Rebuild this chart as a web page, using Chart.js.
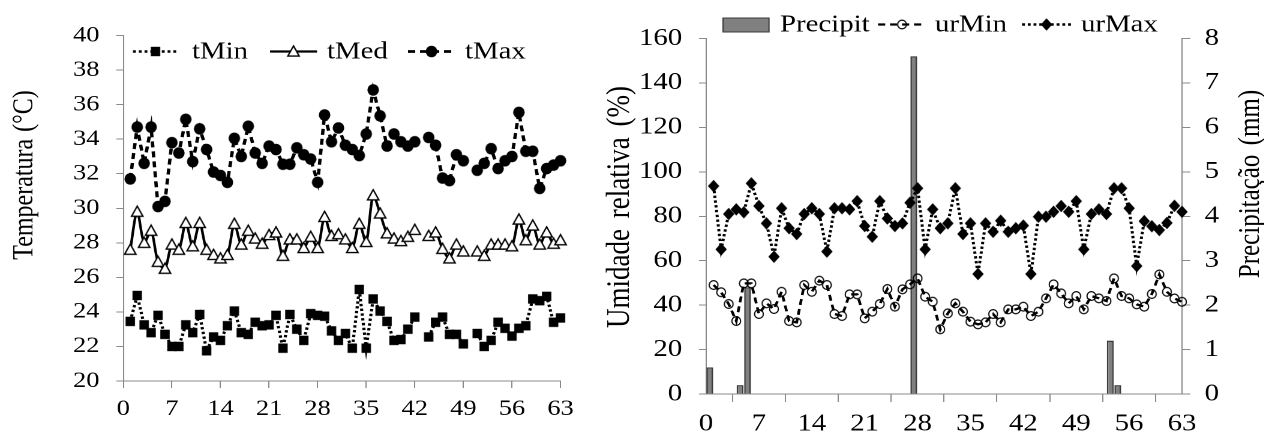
<!DOCTYPE html>
<html>
<head>
<meta charset="utf-8">
<script src="https://cdn.jsdelivr.net/npm/chart.js@4.4.1/dist/chart.umd.min.js"></script>
<style>
html,body{margin:0;padding:0;background:#fff;width:1264px;height:432px;overflow:hidden}
.wrap{position:absolute;top:0;height:432px;transform:scaleX(1.2);transform-origin:0 0}
canvas{display:block}
</style>
</head>
<body>
<div class="wrap" style="left:0;width:500px"><canvas id="c1" width="500" height="432"></canvas></div>
<div class="wrap" style="left:600px;width:553px"><canvas id="c2" width="553" height="432"></canvas></div>
<script>
// ---------------- DATA ----------------
const days = Array.from({length: 63}, (_, i) => i + 1);
const xTicks = [0, 7, 14, 21, 28, 35, 42, 49, 56, 63];
const tempTicks = [20, 22, 24, 26, 28, 30, 32, 34, 36, 38, 40];
const urTicks = [0, 20, 40, 60, 80, 100, 120, 140, 160];
const mmTicks = [0, 1, 2, 3, 4, 5, 6, 7, 8];

const tMin = [23.45,24.95,23.25,22.8,23.8,22.7,22.0,22.0,23.25,22.8,23.85,21.75,22.55,22.35,23.2,24.05,22.8,22.7,23.4,23.2,
  23.25,23.8,21.9,23.85,23.0,22.35,23.9,23.8,23.75,22.9,22.35,22.75,21.9,25.3,21.9,24.75,24.05,23.45,22.35,22.4,
  23.0,23.7,null,22.55,23.4,23.7,22.7,22.7,22.15,null,22.75,22.0,22.35,23.4,23.05,22.6,23.05,23.2,24.75,24.65,
  24.9,23.4,23.65];
const tMed = [27.6,29.8,28.0,28.7,26.9,26.5,27.9,27.6,29.15,27.8,29.15,27.6,27.3,27.1,27.3,29.1,27.9,28.7,28.25,27.95,
  28.45,28.6,27.25,28.2,28.2,27.7,28.35,27.7,29.5,28.4,28.5,28.2,27.7,29.1,28.05,30.75,29.7,28.55,28.25,28.1,
  28.35,28.75,null,28.4,28.6,27.65,27.1,27.9,27.5,null,27.5,27.25,27.9,27.9,27.9,27.8,29.35,28.15,29.0,27.9,
  28.6,27.95,28.15];
const tMax = [31.7,34.7,32.6,34.7,30.1,30.4,33.8,33.2,35.15,32.7,34.6,33.4,32.1,31.9,31.5,34.05,33.0,34.75,33.2,32.6,
  33.6,33.4,32.55,32.55,33.5,33.1,32.85,31.5,35.4,33.85,34.65,33.65,33.4,33.05,34.3,36.85,35.35,33.6,34.3,33.85,
  33.6,33.85,null,34.1,33.65,31.75,31.6,33.1,32.75,null,32.2,32.6,33.45,32.3,32.75,33.0,35.55,33.3,33.3,31.15,
  32.3,32.5,32.75];

const urMin = [49.05,45.8,40.5,32.85,49.8,49.8,36.0,40.8,38.25,46.0,32.85,32.25,49.05,46.0,51.0,49.05,36.0,35.1,44.85,44.85,
  34.05,37.05,40.5,47.25,39.3,47.1,49.35,52.05,43.8,41.55,29.1,36.3,40.8,37.05,32.55,31.35,32.25,36.0,32.25,38.1,
  38.1,39.3,35.1,37.05,43.05,49.35,45.3,40.8,44.1,38.1,44.1,43.05,41.85,52.05,44.1,43.05,40.35,39.3,45.0,53.8,
  46.0,43.0,41.5];
const urMax = [93.6,65.1,81.0,83.1,81.8,94.8,84.6,76.8,61.8,83.6,74.6,72.0,81.0,83.6,81.0,64.1,83.6,83.6,83.1,86.8,
  75.6,70.8,86.8,79.0,75.6,76.8,86.1,92.6,65.1,83.1,74.6,76.8,92.6,72.0,76.8,54.0,76.8,73.0,78.0,73.0,
  74.6,75.8,54.0,79.8,79.8,82.0,84.6,82.0,86.8,65.1,81.0,83.1,81.0,92.6,92.6,83.6,57.6,77.8,75.5,73.8,
  77.0,84.7,82.0];

const precipDays = [1, 5, 6, 28, 54, 55];
const precipMm = [0.6, 0.2, 2.4, 7.6, 1.2, 0.2];

// ---------------- STYLE ----------------
const S = 1.2; // horizontal stretch of the reference
const FONT = "'Liberation Serif', 'Times New Roman', serif";
const AXIS = '#8a8a8a';

function makeMarker(wPage, hPage, draw) {
  const lw = Math.ceil(wPage / S) + 2, lh = Math.ceil(hPage) + 2;
  const c = document.createElement('canvas');
  c.width = lw * 2; c.height = lh * 2;
  const g = c.getContext('2d');
  g.setTransform(2 / S, 0, 0, 2, c.width / 2, c.height / 2);
  draw(g);
  const img = new Image();
  img.width = lw; img.height = lh;
  img.src = c.toDataURL();
  return img;
}
const mkSquare = makeMarker(10, 10, g => { g.fillStyle = '#000'; g.fillRect(-4.7, -4.7, 9.4, 9.4); });
const mkTri = makeMarker(13, 12, g => {
  g.beginPath(); g.moveTo(0, -5.6); g.lineTo(5.7, 4.6); g.lineTo(-5.7, 4.6); g.closePath();
  g.fillStyle = '#fff'; g.fill(); g.lineWidth = 1.4; g.strokeStyle = '#000'; g.stroke();
});
const mkDot = makeMarker(13, 13, g => { g.beginPath(); g.arc(0, 0, 5.8, 0, Math.PI * 2); g.fillStyle = '#000'; g.fill(); });
const mkRing = makeMarker(11, 11, g => { g.beginPath(); g.arc(0, 0, 4.4, 0, Math.PI * 2); g.lineWidth = 1.2; g.strokeStyle = '#000'; g.stroke(); });
const mkDiamond = makeMarker(13, 14, g => {
  g.beginPath(); g.moveTo(0, -6.2); g.lineTo(5.7, 0); g.lineTo(0, 6.2); g.lineTo(-5.7, 0); g.closePath();
  g.fillStyle = '#000'; g.fill();
});

const pts = arr => days.map((d, i) => ({x: d, y: arr[i]}));
const fixTicks = list => s => { s.ticks = list.map(v => ({value: v})); };

function axis(tickLen, pad, size, extra) {
  return Object.assign({
    type: 'linear',
    grid: {display: true, drawOnChartArea: false, drawTicks: true, tickLength: tickLen, color: AXIS, lineWidth: 1},
    border: {display: true, color: AXIS, width: 1},
    ticks: {color: '#000', padding: pad, font: {size: size, family: FONT}, autoSkip: false, maxRotation: 0},
  }, extra);
}

function overlay(offsetX, titles, legend) {
  return {
    id: 'overlay',
    afterDraw(chart) {
      const ctx = chart.ctx;
      ctx.save();
      ctx.fillStyle = '#000';
      titles.forEach(t => {
        ctx.save();
        ctx.translate((t.x - offsetX) / S, t.y);
        ctx.rotate(-Math.PI / 2);
        ctx.font = t.size + 'px ' + FONT;
        if ('wordSpacing' in ctx) ctx.wordSpacing = (t.ws || 0) + 'px';
        ctx.textAlign = 'center'; ctx.textBaseline = 'middle';
        ctx.fillText(t.text, 0, 0);
        ctx.restore();
      });
      legend.items.forEach(it => {
        const ds = chart.data.datasets[it.ds];
        const x1 = (it.x1 - offsetX) / S, x2 = (it.x2 - offsetX) / S;
        if (ds.type === 'bar') {
          ctx.fillStyle = ds.backgroundColor;
          ctx.fillRect(x1, legend.boxTop, x2 - x1, legend.boxH);
          ctx.strokeStyle = ds.borderColor; ctx.lineWidth = 1;
          ctx.strokeRect(x1, legend.boxTop, x2 - x1, legend.boxH);
        } else {
          ctx.save();
          ctx.strokeStyle = ds.borderColor; ctx.lineWidth = ds.borderWidth;
          ctx.setLineDash(ds.borderDash || []);
          ctx.beginPath(); ctx.moveTo(x1, legend.lineY); ctx.lineTo(x2, legend.lineY); ctx.stroke();
          ctx.restore();
          const m = ds.pointStyle, xm = (x1 + x2) / 2;
          ctx.drawImage(m, xm - m.width / 2, legend.lineY - m.height / 2, m.width, m.height);
        }
        ctx.fillStyle = '#000';
        ctx.font = legend.size + 'px ' + FONT;
        ctx.textAlign = 'left'; ctx.textBaseline = 'alphabetic';
        ctx.fillText(ds.label, (it.xt - offsetX) / S, legend.textY);
      });
      ctx.restore();
    }
  };
}

function lineDs(label, arr, style, extra) {
  return Object.assign({
    type: 'line', label: label, data: pts(arr), borderColor: '#000', backgroundColor: '#000',
    pointStyle: style, pointRadius: 5, pointHoverRadius: 5, clip: false, spanGaps: false, tension: 0,
  }, extra);
}

Promise.all([mkSquare, mkTri, mkDot, mkRing, mkDiamond].map(i => i.decode().catch(() => {}))).then(() => {
  Chart.defaults.font.family = FONT;

  // ---------- left chart ----------
  new Chart(document.getElementById('c1'), {
    type: 'line',
    data: {
      datasets: [
        lineDs('tMin', tMin, mkSquare, {borderWidth: 2.6, borderDash: [2.4, 2.4]}),
        lineDs('tMed', tMed, mkTri, {borderWidth: 2.2, tension: 0.3}),
        lineDs('tMax', tMax, mkDot, {borderWidth: 2.8, borderDash: [6, 4]}),
      ]
    },
    options: {
      responsive: false, animation: false, events: [], devicePixelRatio: 2,
      layout: {padding: {top: 35.5, right: 500 - 560.5 / S, bottom: 0, left: 0}},
      plugins: {legend: {display: false}, tooltip: {enabled: false}, title: {display: false}},
      scales: {
        x: axis(7, 8, 22, {min: 0, max: 63, afterBuildTicks: fixTicks(xTicks), afterFit: s => { s.height = 432 - 381; }}),
        y: axis(7 / S, 14, 22, {min: 20, max: 40, afterBuildTicks: fixTicks(tempTicks), afterFit: s => { s.width = 123.3 / S; }}),
      }
    },
    plugins: [overlay(0,
      [{text: 'Temperatura (°C)', x: 25, y: 175, size: 24, ws: 1}],
      {lineY: 51.5, textY: 58.5, size: 24, items: [
        {ds: 0, x1: 133, x2: 178, xt: 192},
        {ds: 1, x1: 270, x2: 317, xt: 327},
        {ds: 2, x1: 408, x2: 455, xt: 465},
      ]})]
  });

  // ---------- right chart ----------
  new Chart(document.getElementById('c2'), {
    type: 'line',
    data: {
      datasets: [
        {type: 'bar', label: 'Precipit', data: precipDays.map((d, i) => ({x: d - 0.5, y: precipMm[i]})),
          yAxisID: 'y2', backgroundColor: '#808080', borderColor: '#3a3a3a', borderWidth: 1.3,
          barPercentage: 0.9, categoryPercentage: 1.0, order: 3, clip: false},
        lineDs('urMin', urMin, mkRing, {borderWidth: 2.3, borderDash: [6, 4], backgroundColor: 'rgba(0,0,0,0)', yAxisID: 'y', order: 2}),
        lineDs('urMax', urMax, mkDiamond, {borderWidth: 2.5, borderDash: [2.4, 2.4], yAxisID: 'y', order: 1}),
      ]
    },
    options: {
      responsive: false, animation: false, events: [], devicePixelRatio: 2,
      layout: {padding: {top: 38.5, right: 0, bottom: 0, left: 0}},
      plugins: {legend: {display: false}, tooltip: {enabled: false}, title: {display: false}},
      scales: {
        x: axis(8, 8, 24, {min: 0, max: 63, offset: false, afterBuildTicks: fixTicks(xTicks), afterFit: s => { s.height = 432 - 394; }}),
        y: axis(7 / S, 14, 24, {position: 'left', min: 0, max: 160, afterBuildTicks: fixTicks(urTicks), afterFit: s => { s.width = (706 - 600) / S; }}),
        y2: axis(8.3 / S, 12, 24, {position: 'right', min: 0, max: 8, afterBuildTicks: fixTicks(mmTicks), afterFit: s => { s.width = 553 - (1182 - 600) / S; }}),
      }
    },
    plugins: [overlay(600,
      [{text: 'Umidade relativa (%)', x: 620, y: 207, size: 27, ws: 4},
       {text: 'Precipitação (mm)', x: 1251, y: 184, size: 25, ws: 3}],
      {lineY: 24.5, textY: 31.7, size: 24, boxTop: 18, boxH: 14, items: [
        {ds: 0, x1: 723, x2: 769, xt: 780},
        {ds: 1, x1: 878, x2: 926, xt: 935},
        {ds: 2, x1: 1022, x2: 1071, xt: 1081},
      ]})]
  });
});
</script>
</body>
</html>
